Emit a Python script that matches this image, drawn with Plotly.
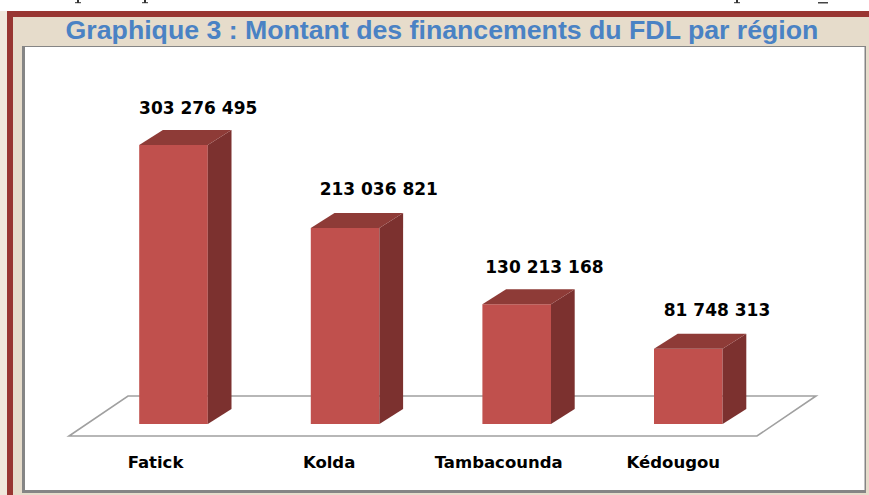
import plotly.graph_objects as go

categories = ["Fatick", "Kolda", "Tambacounda", "Kédougou"]
values = [303276495, 213036821, 130213168, 81748313]
labels = ["303 276 495", "213 036 821", "130 213 168", "81 748 313"]
title = "Graphique 3 : Montant des financements du FDL par région"

# small pixel nudges of the texts, as placed in the reference
label_dx = [1, 10, 4, 5]
label_dy = [12, 14, 12, 14]
tick_dx = [-18, -16, -18, -15]

W, H = 869, 495
L, R, T, B = 24, 866, 47, 450   # plot area in pixels
X0, DX = 173.5, 171.6           # pixel of the first category, pixels per category
PXM = 279 / 303276495           # pixels per unit of value
Y0 = 424                        # pixel of value 0

xr = [(L - X0) / DX, (R - X0) / DX]
yr = [(Y0 - B) / PXM, (Y0 - T) / PXM]

half = 34.3 / DX      # half bar width in category units
ddx = 23.7 / DX       # oblique depth, x
ddy = 15 / PXM        # oblique depth, y

FRONT = "#C0504D"
TOP = "#8E3B37"
SIDE = "#7C312F"
FLOOR = "#A0A0A0"

fig = go.Figure()

# side and top faces of each bar, derived from the values
for i, v in enumerate(values):
    a, b = i - half, i + half
    fig.add_trace(go.Scatter(
        x=[b, b + ddx, b + ddx, b, b], y=[0, ddy, v + ddy, v, 0],
        mode="lines", fill="toself", fillcolor=SIDE, line=dict(width=0),
        hoverinfo="skip", showlegend=False))
    fig.add_trace(go.Scatter(
        x=[a, b, b + ddx, a + ddx, a], y=[v, v, v + ddy, v + ddy, v],
        mode="lines", fill="toself", fillcolor=TOP, line=dict(width=0),
        hoverinfo="skip", showlegend=False))

# front faces
fig.add_trace(go.Bar(
    x=list(range(len(values))), y=values, width=2 * half,
    marker=dict(color=FRONT, line=dict(width=0)), showlegend=False))

# value labels
fig.add_trace(go.Scatter(
    x=[i + ddx + d / DX for i, d in enumerate(label_dx)],
    y=[v + ddy + d / PXM for v, d in zip(values, label_dy)],
    mode="text", text=labels, textposition="top center",
    textfont=dict(family="DejaVu Sans", size=17, color="#000000", weight="bold"),
    hoverinfo="skip", showlegend=False))

def rect(x0, y0, x1, y1, fill):
    return dict(type="rect", xref="paper", yref="paper", layer="below",
                x0=(x0 - L) / (R - L), x1=(x1 - L) / (R - L),
                y0=(B - y1) / (B - T), y1=(B - y0) / (B - T),
                fillcolor=fill, line=dict(width=0))

GREY = "#858585"
RED = "#983632"
shapes = [
    rect(0, 0, W, 11, "#FFFFFF"),
    rect(0, 11, 7, H, "#F0E8DC"),
    rect(7, 11, W, 17, RED),
    rect(7, 11, 13, H, RED),
    rect(22, 46, 866, 493, GREY),
    rect(25, 47, 864.5, 490, "#FFFFFF"),
]

# ink of the cropped page line above the frame
for px in (78, 145, 737):
    shapes.append(rect(px - 1, 0, px + 1, 3, "#333333"))
    shapes.append(rect(px - 3, 2.2, px + 3, 3.2, "#333333"))
shapes.append(rect(818, 2, 828, 3.5, "#444444"))

# floor plane, in data coordinates, below the bars
fx0, fx1 = (69 - X0) / DX, (757 - X0) / DX
fy0, fy1 = -12 / PXM, 28 / PXM
sh = 59 / DX
shapes.append(dict(
    type="path", xref="x", yref="y", layer="below",
    path=f"M {fx0} {fy0} L {fx1} {fy0} L {fx1 + sh} {fy1} L {fx0 + sh} {fy1} Z",
    line=dict(color=FLOOR, width=1.6), fillcolor="rgba(0,0,0,0)"))

fig.update_layout(
    width=W, height=H, autosize=False,
    margin=dict(l=L, r=W - R, t=T, b=H - B, pad=0),
    paper_bgcolor="#E6DCCB", plot_bgcolor="rgba(0,0,0,0)",
    barmode="overlay", shapes=shapes, showlegend=False,
    title=dict(text="<b>" + title + "</b>", x=442 / W, xanchor="center",
               y=1 - 30 / H, yanchor="middle",
               font=dict(family="Liberation Sans", size=26.7, color="#4A82C4")),
    xaxis=dict(range=xr, tickmode="array",
               tickvals=[i + d / DX for i, d in enumerate(tick_dx)], ticktext=categories,
               showgrid=False, zeroline=False, showline=False, ticks="",
               tickfont=dict(family="DejaVu Sans", size=16.5, color="#000000", weight="bold")),
    yaxis=dict(range=yr, visible=False, showgrid=False, zeroline=False),
)
fig.write_html("out.html", config={"displayModeBar": False},
               post_script="document.body.style.margin='0';")
